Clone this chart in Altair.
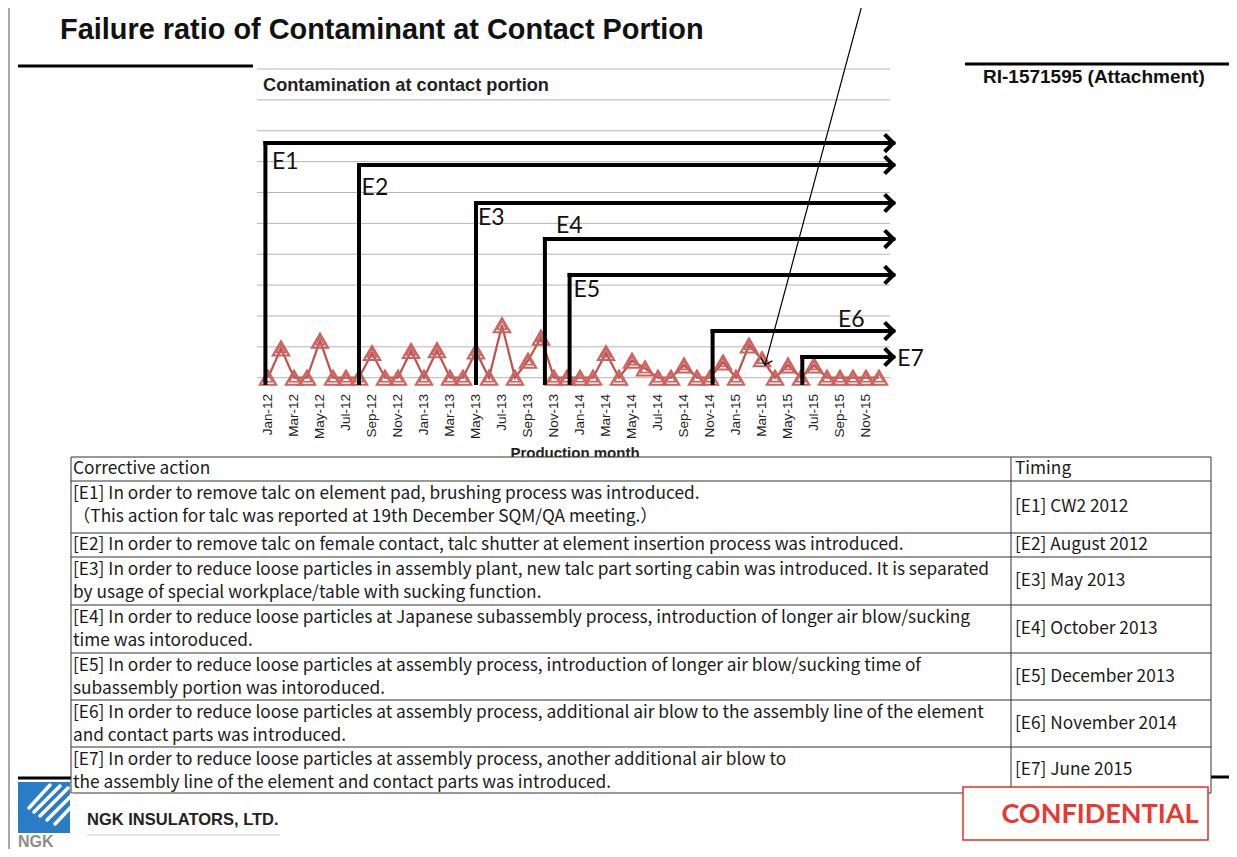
import altair as alt
import pandas as pd

# ---------------- data ----------------
months = ["Jan-12", "Feb-12", "Mar-12", "Apr-12", "May-12", "Jun-12", "Jul-12", "Aug-12",
          "Sep-12", "Oct-12", "Nov-12", "Dec-12", "Jan-13", "Feb-13", "Mar-13", "Apr-13",
          "May-13", "Jun-13", "Jul-13", "Aug-13", "Sep-13", "Oct-13", "Nov-13", "Dec-13",
          "Jan-14", "Feb-14", "Mar-14", "Apr-14", "May-14", "Jun-14", "Jul-14", "Aug-14",
          "Sep-14", "Oct-14", "Nov-14", "Dec-14", "Jan-15", "Feb-15", "Mar-15", "Apr-15",
          "May-15", "Jun-15", "Jul-15", "Aug-15", "Sep-15", "Oct-15", "Nov-15", "Dec-15"]
values = [0, 0.95, 0, 0, 1.2, 0, 0, 0,
          0.8, 0, 0, 0.87, 0, 0.89, 0, 0,
          0.85, 0, 1.7, 0, 0.55, 1.3, 0, 0,
          0, 0, 0.8, 0, 0.55, 0.3, 0, 0,
          0.4, 0, 0, 0.5, 0, 1.05, 0.6, 0,
          0.4, 0, 0.4, 0, 0, 0, 0, 0]
grid_levels = list(range(0, 11))

arrow_names = ["E1", "E2", "E3", "E4", "E5", "E6", "E7"]
arrow_start = [-0.2, 7.0, 16.0, 21.3, 23.2, 34.2, 41.1]
arrow_level = [7.6, 6.89, 5.66, 4.49, 3.33, 1.51, 0.67]
arrow_base = -0.17
arrow_end = 48.1
label_x = [0.3, 7.2, 16.15, 22.15, 23.5, 43.85, 48.4]
label_y = [7.0, 6.14, 5.17, 4.91, 2.84, 1.87, 0.6]

pointer_from = (45.8, 12.24)
pointer_to = (38.23, 0.41)

chart_title = "Contamination at contact portion"
x_title = "Production month"
slide_title = "Failure ratio of Contaminant at Contact Portion"
doc_ref = "RI-1571595 (Attachment)"

table_header = ["Corrective action", "Timing"]
actions = [
    ["[E1] In order to remove talc on element pad, brushing process was introduced.",
     "  （This action for talc was reported at 19th December SQM/QA meeting.）"],
    ["[E2] In order to remove talc on female contact, talc shutter at element insertion process was introduced."],
    ["[E3] In order to reduce loose particles in assembly plant, new talc part sorting cabin was introduced. It is separated",
     "by usage of special workplace/table with sucking function."],
    ["[E4] In order to reduce loose particles at Japanese subassembly process, introduction of longer air blow/sucking",
     "time was intoroduced."],
    ["[E5] In order to reduce loose particles at assembly process, introduction of longer air blow/sucking time of",
     "subassembly portion was intoroduced."],
    ["[E6] In order to reduce loose particles at assembly process, additional air blow to the assembly line of the element",
     "and contact parts was introduced."],
    ["[E7] In order to reduce loose particles at assembly process, another additional air blow to",
     "the assembly line of the element and contact parts was introduced."],
]
timings = ["[E1] CW2 2012", "[E2] August 2012", "[E3] May 2013", "[E4] October 2013",
           "[E5] December 2013", "[E6] November 2014", "[E7] June 2015"]

# ---------------- layout helpers ----------------
def P(v):
    return v - 8

W, H = 1221, 841
XS = alt.Scale(domain=[0, 47], range=[P(268), P(879)], nice=False, zero=False)
YS = alt.Scale(domain=[0, 10], range=[P(377.7), P(69)], nice=False, zero=False)
RED = "#c0504d"
CHEV = "M-1,-1L0,0L-1,1"


def xq(f):
    return alt.X(f, type="quantitative", scale=XS, axis=None)


def yq(f):
    return alt.Y(f, type="quantitative", scale=YS, axis=None)


def px(f):
    return alt.X(f, type="quantitative", scale=None, axis=None)


def py(f):
    return alt.Y(f, type="quantitative", scale=None, axis=None)


series = pd.DataFrame({"i": list(range(len(months))), "m": months, "v": values})
ticks = series[series["i"] % 2 == 0]
grid = pd.DataFrame({"g": grid_levels})
arrows = pd.DataFrame({"n": arrow_names, "s": arrow_start, "t": arrow_level,
                       "b": [arrow_base] * 7, "e": [arrow_end] * 7,
                       "lx": label_x, "ly": label_y})
pointer = pd.DataFrame({"x": [pointer_from[0]], "y": [pointer_from[1]],
                        "x2": [pointer_to[0]], "y2": [pointer_to[1]]})

layers = []

# gridlines
layers.append(alt.Chart(grid).mark_rule(color="#b5b5b5", strokeWidth=1).encode(
    y=yq("g"), x=alt.value(P(257)), x2=alt.value(P(890))))

# chart title
layers.append(alt.Chart(pd.DataFrame({"t": [chart_title]})).mark_text(
    align="left", baseline="middle", font="Liberation Sans", fontWeight="bold",
    fontSize=18.2, color="#222222").encode(
    x=alt.value(P(263)), y=alt.value(P(86)), text="t:N"))

# series line and double triangle markers
layers.append(alt.Chart(series).mark_line(color=RED, strokeWidth=2.2).encode(
    x=xq("i"), y=yq("v")))
layers.append(alt.Chart(series).mark_point(shape="triangle-up", filled=False, size=270,
                                           strokeWidth=2, color="#cc615d", opacity=1).encode(
    x=xq("i"), y=yq("v")))
layers.append(alt.Chart(series).mark_point(shape="triangle-up", filled=False, size=85,
                                           strokeWidth=1.6, color="#cc615d", opacity=1).encode(
    x=xq("i"), y=yq("v")))

# x tick labels
layers.append(alt.Chart(ticks).mark_text(angle=270, align="right", baseline="middle",
                                          font="Liberation Sans", fontSize=13.5,
                                          color="#222222").encode(
    x=xq("i"), y=alt.value(P(394)), text="m:N"))

# x axis title
layers.append(alt.Chart(pd.DataFrame({"t": [x_title]})).mark_text(
    align="center", baseline="middle", font="Liberation Sans", fontWeight="bold",
    fontSize=15, color="#222222").encode(
    x=alt.value(P(575)), y=alt.value(P(453)), text="t:N"))

# E arrows
layers.append(alt.Chart(arrows).mark_rule(color="black", strokeWidth=4, strokeCap="square").encode(
    x=xq("s"), y=yq("b"), y2="t:Q"))
layers.append(alt.Chart(arrows).mark_rule(color="black", strokeWidth=4, strokeCap="square").encode(
    x=xq("s"), x2="e:Q", y=yq("t")))
layers.append(alt.Chart(arrows).mark_point(shape=CHEV, filled=False, size=300, strokeWidth=4,
                                           color="black", opacity=1, strokeJoin="miter").encode(
    x=xq("e"), y=yq("t")))
layers.append(alt.Chart(arrows).mark_text(align="left", baseline="middle", font="Lato",
                                          fontSize=23, color="#111111").encode(
    x=xq("lx"), y=yq("ly"), text="n:N"))

# thin pointer arrow
layers.append(alt.Chart(pointer).mark_rule(color="black", strokeWidth=1.2).encode(
    x=xq("x"), y=yq("y"), x2="x2:Q", y2="y2:Q"))
layers.append(alt.Chart(pointer).mark_point(shape=CHEV, filled=False, size=150, strokeWidth=1.3,
                                            color="black", opacity=1, angle=105).encode(
    x=xq("x2"), y=yq("y2")))

# ---------------- slide decorations ----------------
black_lines = pd.DataFrame({"x": [P(18), P(965), P(18), P(1211)],
                            "x2": [P(253), P(1237), P(72), P(1237)],
                            "y": [P(66), P(64), P(778), P(777)]})
layers.append(alt.Chart(black_lines).mark_rule(color="black", strokeWidth=3).encode(
    x=px("x"), x2="x2:Q", y=py("y")))

layers.append(alt.Chart(pd.DataFrame({"t": [slide_title]})).mark_text(
    align="left", baseline="middle", font="Liberation Sans", fontWeight="bold",
    fontSize=28.9, color="#111111").encode(
    x=alt.value(P(60)), y=alt.value(P(30)), text="t:N"))
layers.append(alt.Chart(pd.DataFrame({"t": [doc_ref]})).mark_text(
    align="left", baseline="middle", font="Liberation Sans", fontWeight="bold",
    fontSize=19, color="#111111").encode(
    x=alt.value(P(983)), y=alt.value(P(77)), text="t:N"))

# left frame line
layers.append(alt.Chart(pd.DataFrame({"a": [0]})).mark_rule(color="#555555", strokeWidth=1).encode(
    x=alt.value(P(9)), y=alt.value(P(0)), y2=alt.value(P(857))))

# table
row_bounds = [457, 481, 533, 557, 605, 653, 700, 747, 793]
col_left, col_mid, col_right = 71, 1011, 1211
layers.append(alt.Chart(pd.DataFrame({"a": [0]})).mark_rect(fill="white").encode(
    x=alt.value(P(col_left)), x2=alt.value(P(col_right)),
    y=alt.value(P(row_bounds[0])), y2=alt.value(P(row_bounds[-1]))))
hl = pd.DataFrame({"y": [P(b) for b in row_bounds]})
layers.append(alt.Chart(hl).mark_rule(color="#333333", strokeWidth=1).encode(
    y=py("y"), x=alt.value(P(col_left)), x2=alt.value(P(col_right))))
vl = pd.DataFrame({"x": [P(col_left), P(col_mid), P(col_right)]})
layers.append(alt.Chart(vl).mark_rule(color="#333333", strokeWidth=1).encode(
    x=px("x"), y=alt.value(P(row_bounds[0])), y2=alt.value(P(row_bounds[-1]))))

rows_txt = []
hdr_y = (row_bounds[0] + row_bounds[1]) / 2
rows_txt.append({"x": P(73), "y": P(hdr_y), "t": table_header[0]})
rows_txt.append({"x": P(1015), "y": P(hdr_y), "t": table_header[1]})
for k, lines in enumerate(actions):
    top, bot = row_bounds[k + 1], row_bounds[k + 2]
    if len(lines) == 1:
        rows_txt.append({"x": P(73), "y": P((top + bot) / 2), "t": lines[0]})
    else:
        for j, ln in enumerate(lines):
            rows_txt.append({"x": P(73), "y": P(top + 12.5 + 23.5 * j), "t": ln})
    rows_txt.append({"x": P(1015), "y": P((top + bot) / 2), "t": timings[k]})
layers.append(alt.Chart(pd.DataFrame(rows_txt)).mark_text(
    align="left", baseline="middle", font="Noto Sans CJK JP", fontSize=17.3,
    color="#1a1a1a").encode(x=px("x"), y=py("y"), text="t:N"))

# NGK logo
layers.append(alt.Chart(pd.DataFrame({"a": [0]})).mark_rect(fill="#2a7cc7").encode(
    x=alt.value(P(18)), x2=alt.value(P(70)), y=alt.value(P(782)), y2=alt.value(P(833))))
stripes = pd.DataFrame({"x": [P(29), P(34), P(40), P(47), P(55)],
                        "y": [P(808), P(812), P(816), P(820), P(824)],
                        "x2": [P(50), P(60), P(68), P(72), P(72)],
                        "y2": [P(785), P(786), P(788), P(795), P(806)]})
layers.append(alt.Chart(stripes).mark_rule(color="white", strokeWidth=3.5, strokeCap="round").encode(
    x=px("x"), y=py("y"), x2="x2:Q", y2="y2:Q"))
layers.append(alt.Chart(pd.DataFrame({"t": ["NGK"]})).mark_text(
    align="left", baseline="middle", font="Liberation Sans", fontWeight="bold",
    fontSize=16, color="#8c8c8c").encode(
    x=alt.value(P(18)), y=alt.value(P(842)), text="t:N"))
layers.append(alt.Chart(pd.DataFrame({"t": ["NGK INSULATORS, LTD."]})).mark_text(
    align="left", baseline="middle", font="Liberation Sans", fontWeight="bold",
    fontSize=16.5, color="#222222").encode(
    x=alt.value(P(87)), y=alt.value(P(820)), text="t:N"))
layers.append(alt.Chart(pd.DataFrame({"a": [0]})).mark_rule(color="#c5ccd4", strokeWidth=1).encode(
    x=alt.value(P(87)), x2=alt.value(P(280)), y=alt.value(P(835))))

# CONFIDENTIAL box
layers.append(alt.Chart(pd.DataFrame({"a": [0]})).mark_rect(fill="white", stroke="#e0302a",
                                                            strokeWidth=1.5).encode(
    x=alt.value(P(963)), x2=alt.value(P(1208)), y=alt.value(P(787)), y2=alt.value(P(840))))
layers.append(alt.Chart(pd.DataFrame({"t": ["CONFIDENTIAL"]})).mark_text(
    align="center", baseline="middle", font="Lato", fontWeight="bold",
    fontSize=27, color="#e8382f").encode(
    x=alt.value(P(1100)), y=alt.value(P(815)), text="t:N"))

chart = alt.layer(*layers).resolve_scale(x="independent", y="independent").properties(
    width=W, height=H, autosize=alt.AutoSizeParams(type="none"), padding=0
).configure_view(stroke=None)

chart.save("out.html", embed_options={"renderer": "svg", "actions": False})
